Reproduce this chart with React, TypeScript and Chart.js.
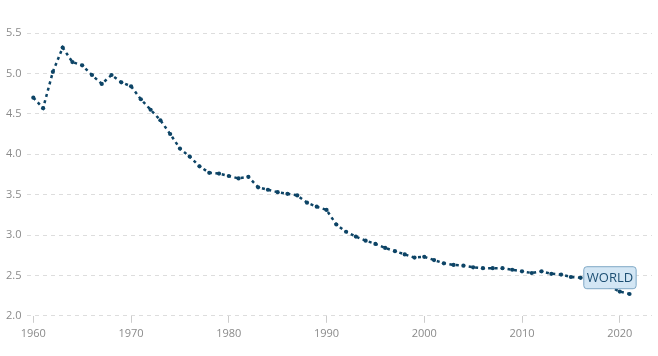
import React, { useEffect, useRef } from "react";
import { Chart, registerables } from "chart.js";

Chart.register(...registerables);

const years: number[] = [];
for (let y = 1960; y <= 2021; y++) years.push(y);

const fertility: number[] = [
  4.70, 4.57, 5.02, 5.32, 5.14, 5.10, 4.98, 4.87, 4.98, 4.89,
  4.84, 4.68, 4.55, 4.42, 4.25, 4.07, 3.97, 3.85, 3.77, 3.76,
  3.73, 3.70, 3.72, 3.59, 3.56, 3.53, 3.51, 3.49, 3.40, 3.35,
  3.31, 3.13, 3.04, 2.98, 2.93, 2.89, 2.84, 2.80, 2.76, 2.72,
  2.73, 2.69, 2.65, 2.63, 2.62, 2.60, 2.59, 2.59, 2.59, 2.57,
  2.55, 2.53, 2.55, 2.52, 2.51, 2.48, 2.47, 2.44, 2.40, 2.36,
  2.30, 2.27,
];

const xTickLabels = [1960, 1970, 1980, 1990, 2000, 2010, 2020];
const yTickLabels = [2.0, 2.5, 3.0, 3.5, 4.0, 4.5, 5.0, 5.5];
const seriesLabel = "WORLD";
const labelAnchorYear = 2019;

const labelPlugin = {
  id: "worldLabel",
  afterDatasetsDraw(chart: any) {
    const { ctx, scales } = chart;
    const idx = years.indexOf(labelAnchorYear);
    const cx = scales.x.getPixelForValue(labelAnchorYear);
    const cy = scales.y.getPixelForValue(fertility[idx]) - 9;
    ctx.save();
    ctx.font = "13px 'Open Sans', sans-serif";
    const tw = ctx.measureText(seriesLabel).width;
    const w = tw + 6;
    const h = 22;
    const x = cx - w / 2;
    const y = cy - h / 2;
    ctx.beginPath();
    const r = 3;
    ctx.moveTo(x + r, y);
    ctx.lineTo(x + w - r, y);
    ctx.quadraticCurveTo(x + w, y, x + w, y + r);
    ctx.lineTo(x + w, y + h - r);
    ctx.quadraticCurveTo(x + w, y + h, x + w - r, y + h);
    ctx.lineTo(x + r, y + h);
    ctx.quadraticCurveTo(x, y + h, x, y + h - r);
    ctx.lineTo(x, y + r);
    ctx.quadraticCurveTo(x, y, x + r, y);
    ctx.closePath();
    ctx.fillStyle = "#d3e6f4";
    ctx.fill();
    ctx.strokeStyle = "#7fa8c6";
    ctx.lineWidth = 1;
    ctx.stroke();
    ctx.fillStyle = "#1d4f73";
    ctx.textAlign = "center";
    ctx.textBaseline = "middle";
    ctx.fillText(seriesLabel, cx, cy + 1);
    ctx.restore();
  },
};

export default function App() {
  const ref = useRef<HTMLCanvasElement>(null);
  useEffect(() => {
    document.body.style.margin = "0";
    const data = years.map((y, i) => ({ x: y, y: fertility[i] }));
    const chart = new Chart(ref.current!, {
      type: "line",
      data: {
        datasets: [
          {
            data,
            borderColor: "#0d4466",
            borderWidth: 2.5,
            borderDash: [3, 3.5],
            pointRadius: 2.1,
            pointBackgroundColor: "#0d4466",
            pointBorderWidth: 0,
            tension: 0,
          },
        ],
      },
      options: {
        responsive: false,
        animation: false,
        layout: { padding: { top: 33, right: 6, left: 0, bottom: 12 } },
        plugins: { legend: { display: false }, tooltip: { enabled: false } },
        scales: {
          x: {
            type: "linear",
            min: 1959.4,
            max: 2023.3,
            afterBuildTicks: (axis: any) => {
              axis.ticks = xTickLabels.map((v) => ({ value: v }));
            },
            ticks: {
              color: "#8a8a8a",
              font: { family: "'Open Sans', sans-serif", size: 11 },
              callback: (v: any) => String(v),
              maxRotation: 0,
              padding: 4,
            },
            grid: {
              drawOnChartArea: false,
              drawTicks: true,
              tickLength: 7,
              color: "#cccccc",
            },
            border: { display: false },
          },
          y: {
            min: 2.0,
            max: 5.5,
            afterBuildTicks: (axis: any) => {
              axis.ticks = yTickLabels.map((v) => ({ value: v }));
            },
            ticks: {
              color: "#8a8a8a",
              font: { family: "'Open Sans', sans-serif", size: 11 },
              callback: (v: any) => Number(v).toFixed(1),
              padding: 6,
            },
            grid: {
              color: "#dddddd",
              drawTicks: false,
              lineWidth: 1,
            },
            border: { display: false, dash: [4, 4] },
          },
        },
      },
      plugins: [labelPlugin],
    });
    return () => chart.destroy();
  }, []);
  return (
    <div style={{ width: 658, height: 356 }}>
      <canvas ref={ref} width={658} height={356} />
    </div>
  );
}
